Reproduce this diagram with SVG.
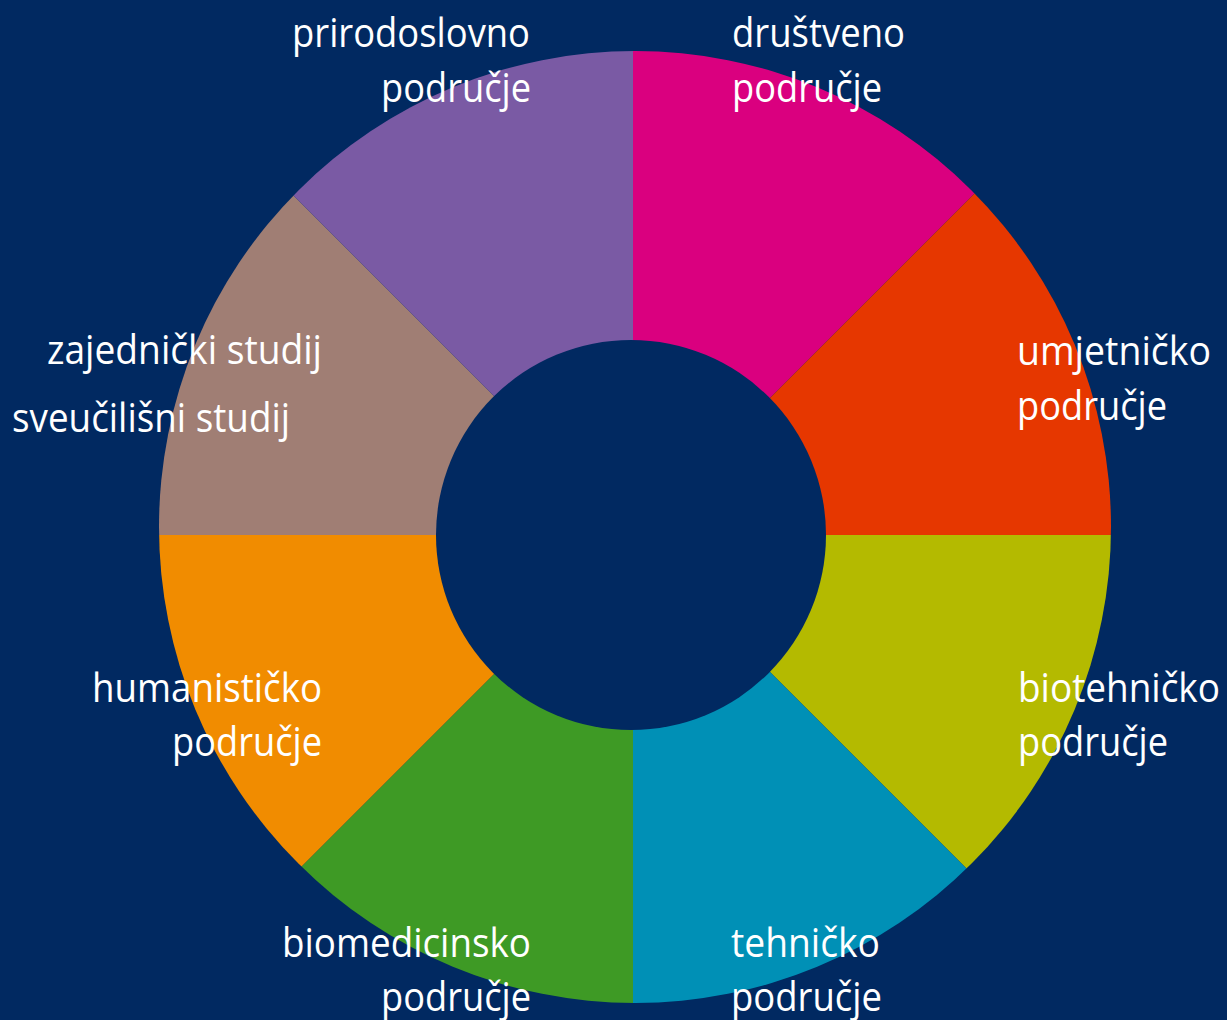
<svg xmlns="http://www.w3.org/2000/svg" width="1227" height="1020" viewBox="0 0 1227 1020">
  <style>
    .lbl { font-family: "Open Sans", "Noto Sans", "Liberation Sans", sans-serif; font-size: 41px; fill: #ffffff; }
  </style>
  <defs>
    <clipPath id="outer">
      <circle cx="635" cy="527" r="476"/>
    </clipPath>
  </defs>
  <rect x="0" y="0" width="1227" height="1020" fill="#012961"/>
  <g id="ring" clip-path="url(#outer)">
    <g id="seg-drustveno"><polygon points="633,535 633,-165 1333,-165" fill="#DA007F"/></g>
    <g id="seg-umjetnicko"><polygon points="633,535 1333,-165 1333,535" fill="#E63700"/></g>
    <g id="seg-biotehnicko"><polygon points="633,535 1333,535 1333,1235" fill="#B4BA00"/></g>
    <g id="seg-tehnicko"><polygon points="633,535 1333,1235 633,1235" fill="#0090B6"/></g>
    <g id="seg-biomedicinsko"><polygon points="633,535 633,1235 -67,1235" fill="#3E9A25"/></g>
    <g id="seg-humanisticko"><polygon points="633,535 -67,1235 -67,535" fill="#F18C00"/></g>
    <g id="seg-zajednicki"><polygon points="633,535 -67,535 -67,-165" fill="#A07E74"/></g>
    <g id="seg-prirodoslovno"><polygon points="633,535 -67,-165 633,-165" fill="#7A5AA4"/></g>
  </g>
  <g id="hole"><circle cx="631" cy="535" r="195" fill="#012961"/></g>
  <g id="connectors"></g>
  <g id="labels">
    <g id="lbl-prirodoslovno">
      <text class="lbl" x="292" y="47" textLength="238" lengthAdjust="spacingAndGlyphs">prirodoslovno</text>
      <text class="lbl" x="381" y="102" textLength="150" lengthAdjust="spacingAndGlyphs">područje</text>
    </g>
    <g id="lbl-drustveno">
      <text class="lbl" x="732" y="47" textLength="173" lengthAdjust="spacingAndGlyphs">društveno</text>
      <text class="lbl" x="732" y="102" textLength="150" lengthAdjust="spacingAndGlyphs">područje</text>
    </g>
    <g id="lbl-umjetnicko">
      <text class="lbl" x="1017" y="365" textLength="194" lengthAdjust="spacingAndGlyphs">umjetničko</text>
      <text class="lbl" x="1017" y="420" textLength="150" lengthAdjust="spacingAndGlyphs">područje</text>
    </g>
    <g id="lbl-biotehnicko">
      <text class="lbl" x="1018" y="702" textLength="202" lengthAdjust="spacingAndGlyphs">biotehničko</text>
      <text class="lbl" x="1018" y="756" textLength="150" lengthAdjust="spacingAndGlyphs">područje</text>
    </g>
    <g id="lbl-humanisticko">
      <text class="lbl" x="92" y="702" textLength="230" lengthAdjust="spacingAndGlyphs">humanističko</text>
      <text class="lbl" x="172" y="756" textLength="150" lengthAdjust="spacingAndGlyphs">područje</text>
    </g>
    <g id="lbl-biomedicinsko">
      <text class="lbl" x="282" y="957" textLength="249" lengthAdjust="spacingAndGlyphs">biomedicinsko</text>
      <text class="lbl" x="381" y="1011" textLength="150" lengthAdjust="spacingAndGlyphs">područje</text>
    </g>
    <g id="lbl-tehnicko">
      <text class="lbl" x="731" y="957" textLength="149" lengthAdjust="spacingAndGlyphs">tehničko</text>
      <text class="lbl" x="731" y="1011" textLength="151" lengthAdjust="spacingAndGlyphs">područje</text>
    </g>
    <g id="lbl-zajednicki">
      <text class="lbl" x="47" y="364" textLength="275" lengthAdjust="spacingAndGlyphs">zajednički studij</text>
      <text class="lbl" x="12" y="432" textLength="278" lengthAdjust="spacingAndGlyphs">sveučilišni studij</text>
    </g>
  </g>
</svg>
